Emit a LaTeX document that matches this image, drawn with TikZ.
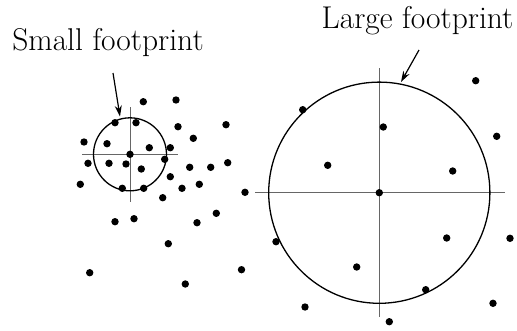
\documentclass[tikz,border=0pt]{standalone}
\usetikzlibrary{arrows.meta}

\tikzset{
  dot/.style={fill=black},
  rim/.style={line width=1.3pt, black},
  cross/.style={line width=1pt, black!60},
  footarrow/.style={-{Stealth[length=11pt, width=7pt]}, line width=1.2pt},
  tag/.style={font=\fontsize{31.5}{34}\selectfont, anchor=base, inner sep=0pt}
}

\begin{document}
\begin{tikzpicture}[x=1pt, y=-1pt]
  \useasboundingbox (0,0) rectangle (517,330);

  % Labels
  \node[tag] (small) at (108, 50) {Small footprint};
  \node[tag] (large) at (417.5, 28) {Large footprint};

  % Small footprint: circle with crosshair
  \draw[cross] (82, 154.3) -- (178, 154.3);
  \draw[cross] (130, 107) -- (130, 202);
  \draw[rim] (130, 154.3) circle (36.5);

  % Large footprint: circle with crosshair
  \draw[cross] (255, 192.7) -- (505, 192.7);
  \draw[cross] (379.3, 68) -- (379.3, 317);
  \draw[rim] (379.3, 192.7) circle (110.6);

  % Arrows from the labels to the circles
  \coordinate (smalltail) at (113, 73);
  \coordinate (smalltip) at (120, 116.5);
  \coordinate (largetail) at (419, 50);
  \coordinate (largetip) at (401, 82);
  \draw[footarrow] (smalltail) -- (smalltip);
  \draw[footarrow] (largetail) -- (largetip);

  % Scattered points
  \foreach \px/\py in {
      143.3/101.7, 176/100, 115/122.7, 136/122.7, 178/126.7, 226/124.7,
      84/142, 107/143.7, 149.3/147.7, 170.3/147.7, 193.3/138.3, 130/154.3,
      88/163.3, 109/163.3, 126/164, 141.3/169, 164.7/159.3, 189.7/167.3,
      210.7/167.3, 227.7/162.7, 170.3/176.7, 80.3/184.3, 122.3/188.3,
      143.7/188.3, 182/188.3, 199.3/184.3, 162.7/197.7, 245/192.3,
      115/221.7, 134/218.7, 197/222.7, 216.3/213.3, 168.3/243.7,
      89.7/272.7, 185.3/284, 241.5/269.7,
      475.7/80.7, 302.7/109.7, 383.3/127, 496.7/136.3, 327.7/165.3,
      452.7/171, 379.3/192.7, 276/241.7, 446.7/238, 510/238.3,
      356.7/267, 425.7/289.7, 305/307, 493/303.3, 389.3/321.7}
    \fill[dot] (\px, \py) circle (3.7);
\end{tikzpicture}
\end{document}
